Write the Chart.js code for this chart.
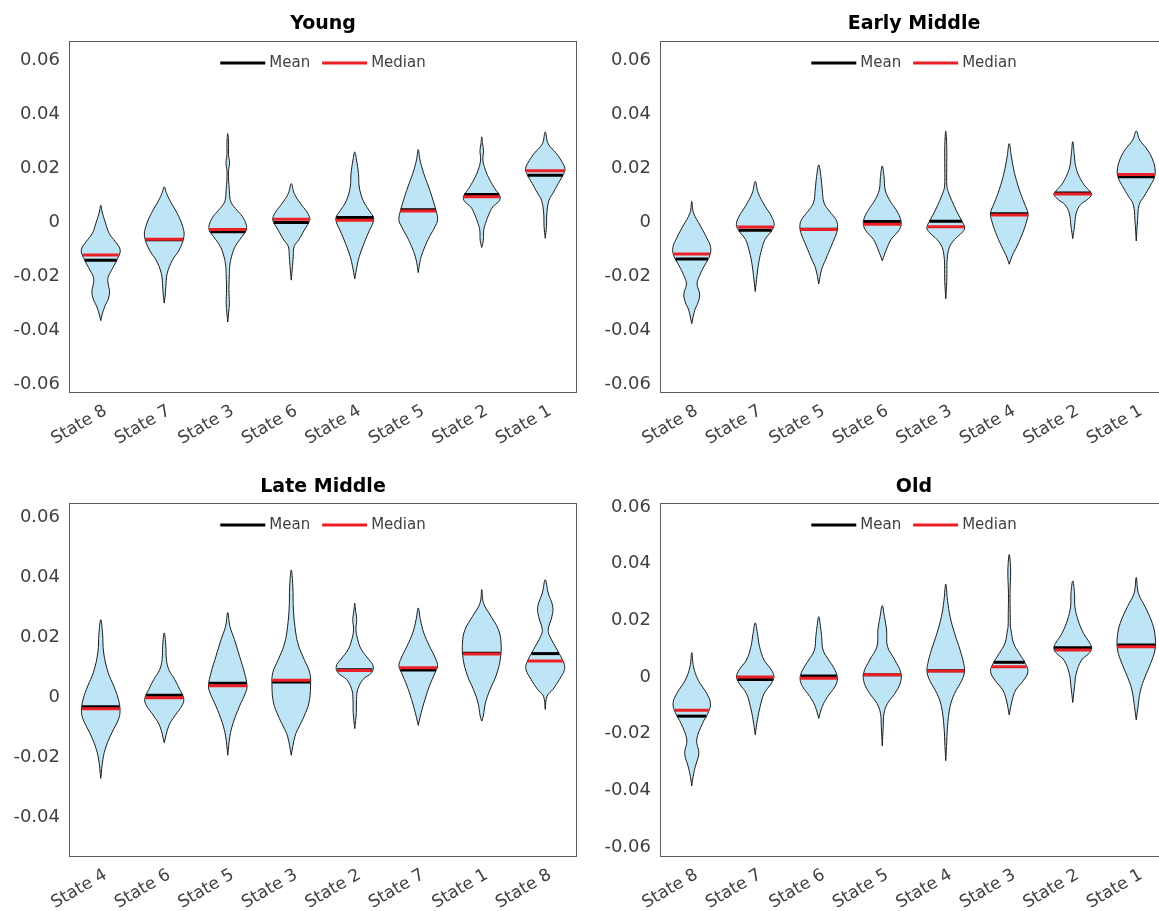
<!DOCTYPE html>
<html>
<head>
<meta charset="utf-8">
<script src="https://cdn.jsdelivr.net/npm/chart.js@4.4.1/dist/chart.umd.min.js"></script>
<style>
  html, body { margin: 0; padding: 0; background: #fff; overflow: hidden; width: 1159px; height: 911px; }
  canvas { position: absolute; }
</style>
</head>
<body>
<canvas id="young" style="left:0px;top:0px" width="590" height="455"></canvas>
<canvas id="early" style="left:590px;top:0px" width="590" height="455"></canvas>
<canvas id="late" style="left:0px;top:455px" width="590" height="456"></canvas>
<canvas id="old" style="left:590px;top:455px" width="590" height="456"></canvas>
<script>
// ---------------- data ----------------
// Each violin outline: [value, relative half-width] from the bottom tip to the top tip.

const youngStates = ['State 8', 'State 7', 'State 3', 'State 6', 'State 4', 'State 5', 'State 2', 'State 1'];
const youngMeans   = [-0.0141, -0.0065, -0.0036, -0.0001, 0.0017, 0.0046, 0.0102, 0.0174];
const youngMedians = [-0.0122, -0.0063, -0.0027,  0.0011, 0.0007, 0.0041, 0.0094, 0.0190];
const youngShapes = [
  [[-0.0365,0],[-0.034,0.08],[-0.031,0.22],[-0.0285,0.38],[-0.0258,0.45],[-0.023,0.38],[-0.0205,0.37],[-0.0178,0.55],[-0.014,0.82],[-0.0104,0.99],[-0.0073,0.75],[-0.0042,0.43],[0,0.23],[0.003,0.1],[0.0045,0.05],[0.0063,0]],
  [[-0.030,0],[-0.027,0.05],[-0.024,0.08],[-0.019,0.15],[-0.014,0.42],[-0.0104,0.75],[-0.0054,1.0],[-0.0017,0.94],[0.0032,0.66],[0.0081,0.28],[0.011,0.1],[0.0131,0]],
  [[-0.037,0],[-0.034,0.04],[-0.030,0.08],[-0.025,0.06],[-0.020,0.08],[-0.0165,0.1],[-0.0128,0.19],[-0.009,0.38],[-0.0054,0.72],[-0.003,0.94],[-0.001,0.94],[0.002,0.75],[0.0044,0.47],[0.007,0.19],[0.009,0.11],[0.012,0.08],[0.016,0.04],[0.019,0.04],[0.022,0.09],[0.025,0.04],[0.030,0.04],[0.0328,0]],
  [[-0.0215,0],[-0.0165,0.06],[-0.0128,0.1],[-0.009,0.15],[-0.0066,0.38],[-0.003,0.66],[0,0.9],[0.0014,0.94],[0.0038,0.79],[0.0069,0.47],[0.0106,0.15],[0.0143,0]],
  [[-0.021,0],[-0.0165,0.11],[-0.0128,0.23],[-0.0079,0.47],[-0.003,0.75],[0.0001,0.94],[0.002,0.94],[0.0044,0.72],[0.0081,0.42],[0.013,0.23],[0.018,0.19],[0.023,0.09],[0.026,0]],
  [[-0.0187,0],[-0.015,0.08],[-0.0128,0.15],[-0.009,0.34],[-0.0054,0.57],[-0.0017,0.85],[0.0007,0.98],[0.0032,0.94],[0.0081,0.75],[0.013,0.53],[0.018,0.28],[0.023,0.09],[0.0269,0]],
  [[-0.0094,0],[-0.0067,0.08],[-0.003,0.1],[-0.0005,0.19],[0.0032,0.38],[0.0057,0.57],[0.0075,0.85],[0.0088,0.94],[0.010,0.9],[0.0125,0.66],[0.0155,0.42],[0.0192,0.19],[0.023,0.06],[0.0266,0.09],[0.029,0.04],[0.0316,0]],
  [[-0.006,0],[-0.0017,0.06],[0.0032,0.08],[0.0081,0.19],[0.0106,0.38],[0.0143,0.66],[0.018,0.94],[0.0198,1.0],[0.0217,0.9],[0.0254,0.57],[0.029,0.15],[0.0334,0]]
];

const earlyStates = ['State 8', 'State 7', 'State 5', 'State 6', 'State 3', 'State 4', 'State 2', 'State 1'];
const earlyMeans   = [-0.0137, -0.0030, -0.0026,  0.0002,  0.0003, 0.0031, 0.0108, 0.0168];
const earlyMedians = [-0.0118, -0.0018, -0.0027, -0.0008, -0.0017, 0.0026, 0.0104, 0.0176];
const earlyShapes = [
  [[-0.0376,0],[-0.0327,0.15],[-0.0296,0.33],[-0.0266,0.4],[-0.0229,0.27],[-0.0198,0.4],[-0.0162,0.64],[-0.0125,0.91],[-0.0094,0.96],[-0.0058,0.76],[-0.0015,0.45],[0.0034,0.09],[0.0077,0]],
  [[-0.0257,0],[-0.0198,0.09],[-0.0149,0.18],[-0.010,0.33],[-0.0064,0.5],[-0.0033,0.82],[-0.0009,0.96],[0.0022,0.82],[0.0059,0.5],[0.0108,0.15],[0.0151,0]],
  [[-0.0229,0],[-0.0174,0.15],[-0.0137,0.36],[-0.0088,0.64],[-0.0039,0.91],[-0.0015,0.96],[0.001,0.87],[0.004,0.55],[0.0071,0.27],[0.012,0.18],[0.0169,0.11],[0.0212,0]],
  [[-0.0143,0],[-0.010,0.22],[-0.0064,0.45],[-0.0033,0.82],[-0.0009,0.96],[0.0016,0.91],[0.0047,0.69],[0.0083,0.36],[0.012,0.15],[0.0169,0.09],[0.0208,0]],
  [[-0.0284,0],[-0.022,0.05],[-0.016,0.06],[-0.0137,0.07],[-0.0094,0.18],[-0.0064,0.45],[-0.0039,0.82],[-0.0021,0.96],[0.0004,0.82],[0.0034,0.6],[0.0071,0.36],[0.0108,0.15],[0.0132,0.06],[0.020,0.05],[0.028,0.05],[0.0337,0]],
  [[-0.0156,0],[-0.0125,0.15],[-0.0088,0.4],[-0.0039,0.69],[0.001,0.91],[0.0034,0.95],[0.0071,0.76],[0.012,0.51],[0.0181,0.27],[0.0242,0.11],[0.0291,0]],
  [[-0.0061,0],[-0.0015,0.09],[0.0034,0.18],[0.0065,0.4],[0.0083,0.73],[0.0102,0.96],[0.0114,0.87],[0.0138,0.58],[0.0169,0.33],[0.0206,0.15],[0.0255,0.07],[0.0298,0]],
  [[-0.007,0],[0.001,0.07],[0.0065,0.15],[0.0096,0.4],[0.0132,0.69],[0.0163,0.91],[0.0193,0.96],[0.023,0.84],[0.0267,0.58],[0.0304,0.18],[0.0337,0]]
];

const lateStates = ['State 4', 'State 6', 'State 5', 'State 3', 'State 2', 'State 7', 'State 1', 'State 8'];
const lateMeans   = [-0.0032,  0.0006, 0.0046, 0.0050, 0.0091, 0.0090, 0.0146, 0.0145];
const lateMedians = [-0.0039, -0.0002, 0.0038, 0.0056, 0.0089, 0.0098, 0.0144, 0.0120];
const lateShapes = [
  [[-0.0271,0],[-0.0207,0.11],[-0.0163,0.28],[-0.0118,0.57],[-0.0074,0.9],[-0.0047,0.98],[-0.0008,0.9],[0.0037,0.66],[0.0081,0.38],[0.0147,0.15],[0.0214,0.09],[0.0258,0]],
  [[-0.0152,0],[-0.0096,0.23],[-0.0063,0.53],[-0.0024,0.94],[-0.0002,0.98],[0.0025,0.79],[0.0059,0.53],[0.0092,0.23],[0.0125,0.11],[0.017,0.08],[0.0214,0]],
  [[-0.0194,0],[-0.013,0.11],[-0.0085,0.28],[-0.003,0.6],[0.0014,0.9],[0.0037,0.98],[0.0081,0.85],[0.0136,0.6],[0.0192,0.34],[0.0236,0.11],[0.0282,0]],
  [[-0.0194,0],[-0.013,0.19],[-0.0096,0.42],[-0.0063,0.66],[-0.0019,0.9],[0.0037,0.98],[0.0081,0.94],[0.0125,0.66],[0.017,0.38],[0.0214,0.23],[0.0291,0.11],[0.0369,0.08],[0.0424,0]],
  [[-0.0105,0],[-0.0052,0.08],[-0.0008,0.09],[0.0025,0.15],[0.0059,0.42],[0.0081,0.85],[0.0103,0.94],[0.0125,0.72],[0.0158,0.34],[0.0192,0.15],[0.0225,0.06],[0.0258,0.1],[0.029,0.04],[0.0313,0]],
  [[-0.0094,0],[-0.0052,0.15],[-0.0008,0.34],[0.0037,0.57],[0.0081,0.85],[0.0103,0.98],[0.0125,0.9],[0.017,0.57],[0.0214,0.28],[0.0258,0.11],[0.0297,0]],
  [[-0.008,0],[-0.0063,0.08],[-0.0019,0.19],[0.0025,0.42],[0.007,0.72],[0.0125,0.94],[0.018,0.98],[0.0225,0.85],[0.0269,0.47],[0.0313,0.09],[0.0358,0]],
  [[-0.0041,0],[0.0003,0.09],[0.0025,0.38],[0.0059,0.72],[0.0092,0.98],[0.0114,0.94],[0.0158,0.6],[0.0203,0.23],[0.0225,0.15],[0.0269,0.34],[0.0302,0.38],[0.0347,0.15],[0.0391,0]]
];

const oldStates = ['State 8', 'State 7', 'State 6', 'State 5', 'State 4', 'State 3', 'State 2', 'State 1'];
const oldMeans   = [-0.0138, -0.0009,  0.0004, 0.0008, 0.0022, 0.0052, 0.0103, 0.0113];
const oldMedians = [-0.0117,  0.0000, -0.0004, 0.0008, 0.0021, 0.0036, 0.0095, 0.0107];
const oldShapes = [
  [[-0.0384,0],[-0.0351,0.07],[-0.0316,0.18],[-0.0269,0.36],[-0.0222,0.25],[-0.0163,0.55],[-0.0128,0.82],[-0.0093,0.95],[-0.0058,0.76],[-0.0011,0.33],[0.0036,0.09],[0.0086,0]],
  [[-0.0204,0],[-0.0151,0.11],[-0.0104,0.25],[-0.0058,0.45],[-0.0022,0.82],[0.0001,0.95],[0.0025,0.82],[0.006,0.45],[0.0107,0.22],[0.0154,0.11],[0.0191,0]],
  [[-0.0146,0],[-0.0104,0.18],[-0.0069,0.45],[-0.0034,0.82],[-0.0005,0.95],[0.0025,0.82],[0.006,0.51],[0.0095,0.22],[0.0142,0.15],[0.0177,0.09],[0.0213,0]],
  [[-0.0243,0],[-0.0175,0.05],[-0.0128,0.09],[-0.0093,0.27],[-0.0058,0.64],[-0.0022,0.91],[0.0013,0.95],[0.006,0.64],[0.0107,0.27],[0.0166,0.22],[0.0213,0.11],[0.0252,0]],
  [[-0.0295,0],[-0.0245,0.04],[-0.0175,0.09],[-0.0104,0.22],[-0.0058,0.45],[-0.0011,0.82],[0.0019,0.95],[0.0048,0.91],[0.0095,0.73],[0.0154,0.45],[0.0213,0.22],[0.0271,0.09],[0.0328,0]],
  [[-0.0134,0],[-0.0081,0.15],[-0.0046,0.33],[-0.0011,0.73],[0.0019,0.95],[0.0048,0.82],[0.0083,0.51],[0.0119,0.22],[0.0166,0.09],[0.0177,0.06],[0.0224,0.05],[0.0295,0.04],[0.0377,0.07],[0.0432,0]],
  [[-0.009,0],[-0.0034,0.09],[0.0013,0.18],[0.006,0.45],[0.0083,0.82],[0.0101,0.96],[0.0119,0.87],[0.0154,0.55],[0.0201,0.27],[0.0248,0.11],[0.0295,0.09],[0.0339,0]],
  [[-0.0151,0],[-0.0104,0.09],[-0.0046,0.22],[0.0001,0.45],[0.0048,0.73],[0.0095,0.95],[0.0142,0.96],[0.0189,0.82],[0.0248,0.45],[0.0295,0.11],[0.0351,0]]
];

// y-axis tick values and limits per panel
const yTicksFull = [-0.06, -0.04, -0.02, 0, 0.02, 0.04, 0.06];
const yTicksLate = [-0.04, -0.02, 0, 0.02, 0.04, 0.06];
const youngRange = [-0.0633, 0.0671];
const earlyRange = [-0.0633, 0.0671];
const lateRange  = [-0.0533, 0.0647];
const oldRange   = [-0.0635, 0.0614];

const keyLabels = ['Mean', 'Median'];

// ---------------- styling ----------------
const FONT = '"DejaVu Sans", "Liberation Sans", sans-serif';
const VIOLIN_FILL = 'rgb(190,229,246)';
const VIOLIN_EDGE = '#1c1c1c';
const MEAN_COLOR = '#000000';
const MEDIAN_COLOR = 'rgb(236,32,36)';
const TEXT_COLOR = '#404040';
const FRAME_COLOR = '#5c5c5c';
const HALF = 0.31;             // widest half-width of a violin, in category units

Chart.defaults.font.family = FONT;

function widthAt(profile, v) {
  for (let k = 0; k < profile.length - 1; k++) {
    const [y0, w0] = profile[k];
    const [y1, w1] = profile[k + 1];
    if (v >= y0 && v <= y1) return w0 + (w1 - w0) * (v - y0) / (y1 - y0);
  }
  return 0;
}

// closed outline: up the right side, back down the left side
function outline(center, profile) {
  const right = profile.map(([y, w]) => ({ x: center + w * HALF, y }));
  const left = profile.slice(0, -1).reverse().map(([y, w]) => ({ x: center - w * HALF, y }));
  return right.concat(left);
}

function stat(center, profile, v) {
  const h = widthAt(profile, v) * HALF;
  return [{ x: center - h, y: v }, { x: center + h, y: v }];
}

function fmtTick(v) {
  if (Math.abs(v) < 1e-9) return '0';
  return v.toFixed(2);
}

const frameAndKey = {
  id: 'frameAndKey',
  afterDatasetsDraw(chart) {
    const { ctx, chartArea: a } = chart;
    ctx.save();
    ctx.strokeStyle = FRAME_COLOR;
    ctx.lineWidth = 1;
    ctx.strokeRect(a.left + 0.5, a.top + 0.5, a.right - a.left - 1, a.bottom - a.top - 1);

    ctx.font = '15px ' + FONT;
    const colors = [MEAN_COLOR, MEDIAN_COLOR];
    const swatch = 45, gapText = 4, gapItem = 12;
    const items = keyLabels.map((t, i) => ({ t, c: colors[i], w: ctx.measureText(t).width }));
    const total = items.reduce((s, it) => s + swatch + gapText + it.w, 0) + gapItem * (items.length - 1);
    let x = (a.left + a.right) / 2 - total / 2;
    const y = a.top + 22;
    ctx.textBaseline = 'middle';
    ctx.textAlign = 'left';
    items.forEach(it => {
      ctx.fillStyle = it.c;
      ctx.fillRect(x, y - 1.5, swatch, 3);
      x += swatch + gapText;
      ctx.fillStyle = TEXT_COLOR;
      ctx.fillText(it.t, x, y);
      x += it.w + gapItem;
    });
    ctx.restore();
  }
};

function makePanel(id, title, states, shapes, means, medians, range, yTicks, geom) {
  const datasets = [];
  shapes.forEach((prof, i) => {
    datasets.push({
      label: states[i],
      data: outline(i + 1, prof),
      showLine: true,
      fill: 'shape',
      backgroundColor: VIOLIN_FILL,
      borderColor: VIOLIN_EDGE,
      borderWidth: 1,
      pointRadius: 0,
      tension: 0.4,
      order: 3
    });
  });
  means.forEach((m, i) => {
    datasets.push({
      label: 'Mean',
      data: stat(i + 1, shapes[i], m),
      showLine: true, fill: false,
      borderColor: MEAN_COLOR, borderWidth: 3, pointRadius: 0, order: 2
    });
  });
  medians.forEach((m, i) => {
    datasets.push({
      label: 'Median',
      data: stat(i + 1, shapes[i], m),
      showLine: true, fill: false,
      borderColor: MEDIAN_COLOR, borderWidth: 3, pointRadius: 0, order: 1
    });
  });

  new Chart(document.getElementById(id), {
    type: 'scatter',
    data: { datasets },
    options: {
      responsive: false,
      animation: false,
      devicePixelRatio: 1,
      events: [],
      layout: { padding: { left: 0, right: geom.padRight, top: 0, bottom: 0 } },
      plugins: {
        legend: { display: false },
        tooltip: { enabled: false },
        title: {
          display: true, text: title, fullSize: false, color: '#000',
          font: { family: FONT, size: 19, weight: 'bold' },
          padding: { top: geom.titleTop, bottom: geom.titleBottom }
        }
      },
      scales: {
        x: {
          type: 'linear', min: 0.5, max: 8.5,
          grid: { display: false, drawTicks: false },
          border: { display: false },
          afterBuildTicks: s => { s.ticks = states.map((_, i) => ({ value: i + 1 })); },
          afterFit: s => { s.height = geom.xAxisH; },
          ticks: {
            autoSkip: false, minRotation: 30, maxRotation: 30,
            padding: 8, labelOffset: 5,
            color: TEXT_COLOR, font: { family: FONT, size: 17 },
            callback: v => states[Math.round(v) - 1]
          }
        },
        y: {
          type: 'linear', min: range[0], max: range[1],
          grid: { display: false, drawTicks: false },
          border: { display: false },
          afterBuildTicks: s => { s.ticks = yTicks.map(v => ({ value: v })); },
          afterFit: s => { s.width = geom.yAxisW; },
          ticks: {
            padding: 9,
            color: TEXT_COLOR, font: { family: FONT, size: 18 },
            callback: v => fmtTick(v)
          }
        }
      }
    },
    plugins: [frameAndKey]
  });
}

const topLeft  = { yAxisW: 69, padRight: 13, titleTop: 13, titleBottom: 5.2, xAxisH: 62 };
const topRight = { yAxisW: 70, padRight: 12, titleTop: 13, titleBottom: 5.2, xAxisH: 62 };
const botLeft  = { yAxisW: 69, padRight: 13, titleTop: 20.6, titleBottom: 4.6, xAxisH: 54 };
const botRight = { yAxisW: 70, padRight: 12, titleTop: 20.6, titleBottom: 4.6, xAxisH: 54 };

makePanel('young', 'Young', youngStates, youngShapes, youngMeans, youngMedians, youngRange, yTicksFull, topLeft);
makePanel('early', 'Early Middle', earlyStates, earlyShapes, earlyMeans, earlyMedians, earlyRange, yTicksFull, topRight);
makePanel('late', 'Late Middle', lateStates, lateShapes, lateMeans, lateMedians, lateRange, yTicksLate, botLeft);
makePanel('old', 'Old', oldStates, oldShapes, oldMeans, oldMedians, oldRange, yTicksFull, botRight);
</script>
</body>
</html>
